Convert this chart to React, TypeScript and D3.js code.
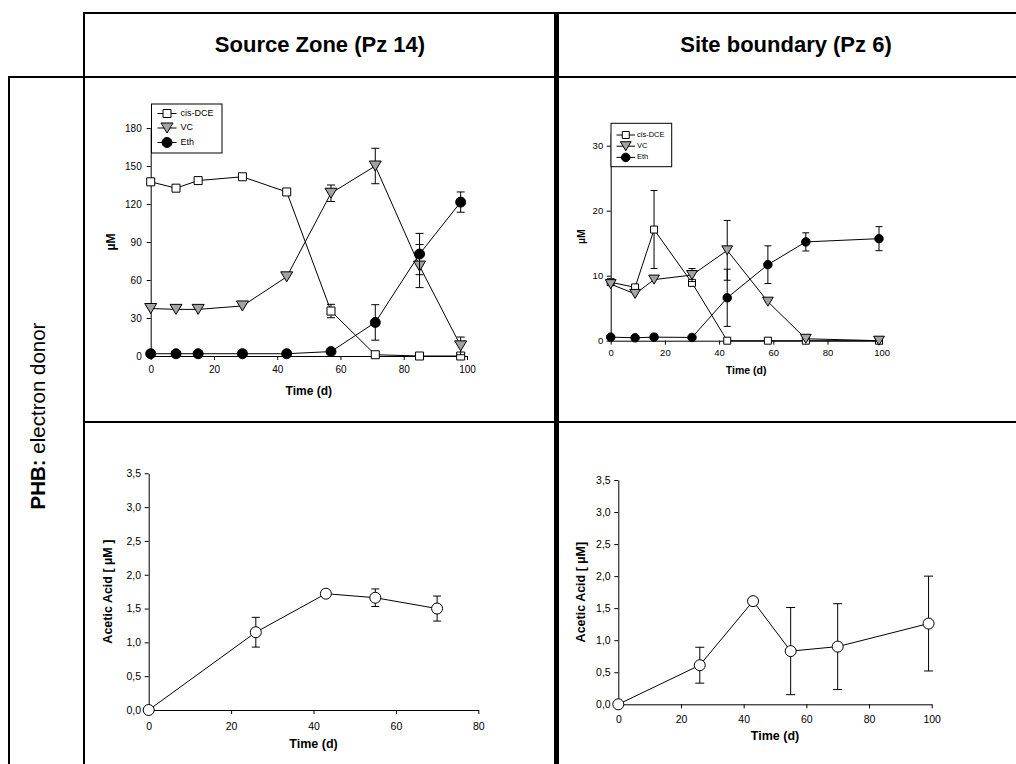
import React, { useEffect, useRef } from "react";
import * as d3 from "d3";

// Source Zone (Pz 14) - chlorinated ethenes
const szDays = [0, 8, 15, 29, 43, 57, 71, 85, 98];
const szDCE = [137.5, 132.5, 138.5, 141.5, 129.5, 35.5, 1, 0, 0];
const szDCEErr = [0, 0, 0, 0, 0, 5.3, 0, 0, 0];
const szVC = [37.5, 36.8, 36.8, 39.5, 62.5, 128.5, 150, 71, 8];
const szVCErr = [0, 0, 0, 0, 0, 6.5, 14, 17, 7];
const szEth = [1.8, 1.8, 1.8, 1.8, 1.8, 3.5, 26.5, 80.5, 121.5];
const szEthErr = [0, 0, 0, 0, 0, 0, 14, 16.3, 8];

// Site boundary (Pz 6) - chlorinated ethenes
const sbDays = [0, 9, 16, 30, 43, 58, 72, 99];
const sbDCE = [9.0, 8.2, 17.1, 8.9, 0, 0, 0, 0];
const sbDCEErr = [0, 0, 6.0, 0, 0, 0, 0, 0];
const sbVC = [8.7, 7.2, 9.4, 10.1, 13.9, 6.0, 0.3, 0];
const sbVCErr = [0, 0, 0, 1.0, 4.6, 0, 0, 0];
const sbEth = [0.55, 0.45, 0.55, 0.5, 6.6, 11.7, 15.2, 15.7];
const sbEthErr = [0, 0, 0, 0, 4.4, 2.9, 1.4, 1.85];

// acetic acid
const szAcDays = [0, 26, 43, 55, 70];
const szAcetic = [0, 1.15, 1.72, 1.66, 1.5];
const szAceticErr = [0, 0.22, 0, 0.13, 0.185];
const sbAcDays = [0, 26, 43, 55, 70, 99];
const sbAcetic = [0, 0.61, 1.61, 0.83, 0.9, 1.26];
const sbAceticErr = [0, 0.28, 0, 0.68, 0.67, 0.74];

const seriesNames = ["cis-DCE", "VC", "Eth"];
const dayTicks = [0, 20, 40, 60, 80, 100];
const dayTicks80 = [0, 20, 40, 60, 80];
const szTicks = [0, 30, 60, 90, 120, 150, 180];
const sbTicks = [0, 10, 20, 30];
const aceticTicks = [0, 0.5, 1, 1.5, 2, 2.5, 3, 3.5];
const headers = ["Source Zone (Pz 14)", "Site boundary (Pz 6)"];

const FONT = "Arial, 'Liberation Sans', sans-serif";
const GREY = "#a3a3a3";

function symbolPath(shape, s) {
  if (shape == "square") return `M${-s / 2},${-s / 2}h${s}v${s}h${-s}Z`;
  if (shape == "triangle") {
    var w = s * 1.2, h = s * 1.0;
    return `M${-w / 2},${-h / 2}L${w / 2},${-h / 2}L0,${h / 2}Z`;
  }
  var r = s / 2;
  return `M${-r},0a${r},${r} 0 1,0 ${2 * r},0a${r},${r} 0 1,0 ${-2 * r},0Z`;
}
const fills = { square: "#fff", triangle: GREY, circle: "#000", open: "#fff" };

function drawPanel(svg, p) {
  var g = svg.append("g");
  var x = d3.scaleLinear().domain(p.xDomain).range(p.xRange);
  var y = d3.scaleLinear().domain(p.yDomain).range(p.yRange);

  var xa = g.append("g").attr("transform", "translate(0," + p.yRange[0] + ")")
    .call(d3.axisBottom(x).tickValues(p.xTicks).tickSize(4).tickPadding(p.xPad).tickSizeOuter(0));
  var ya = g.append("g").attr("transform", "translate(" + p.xRange[0] + ",0)")
    .call(d3.axisLeft(y).tickValues(p.yTicks).tickFormat(p.yFormat).tickSize(4).tickPadding(p.yPad).tickSizeOuter(0));
  [xa, ya].forEach(a => {
    a.attr("font-family", FONT).attr("font-size", p.tickFont);
    a.selectAll(".domain").attr("stroke", "#000");
    a.selectAll(".tick line").attr("stroke", "#000");
    a.selectAll(".tick text").attr("fill", "#000");
  });

  g.append("text")
    .attr("x", (p.xRange[0] + p.xRange[1]) / 2).attr("y", p.yRange[0] + p.xTitleOff)
    .attr("text-anchor", "middle").attr("dominant-baseline", "middle")
    .attr("font-family", FONT).attr("font-weight", "bold").attr("font-size", p.titleFont)
    .text("Time (d)");
  g.append("text")
    .attr("transform", "translate(" + p.yTitleX + "," + (p.yRange[0] + p.yRange[1]) / 2 + ") rotate(-90)")
    .attr("text-anchor", "middle").attr("dominant-baseline", "middle")
    .attr("font-family", FONT).attr("font-weight", "bold").attr("font-size", p.titleFont)
    .text(p.yTitle);

  p.series.forEach(s => {
    var pts = s.days.map((d, i) => ({ d: d, v: s.values[i], e: s.errs[i] }));
    var eb = g.append("g").attr("stroke", "#000").attr("stroke-width", 1);
    pts.filter(q => q.e > 0).forEach(q => {
      var cx = x(q.d);
      var top = y(q.v + q.e), bot = y(Math.max(0, q.v - q.e));
      eb.append("line").attr("x1", cx).attr("x2", cx).attr("y1", top).attr("y2", bot);
      eb.append("line").attr("x1", cx - p.cap / 2).attr("x2", cx + p.cap / 2).attr("y1", top).attr("y2", top);
      eb.append("line").attr("x1", cx - p.cap / 2).attr("x2", cx + p.cap / 2).attr("y1", bot).attr("y2", bot);
    });
    g.append("path").datum(pts)
      .attr("fill", "none").attr("stroke", "#000").attr("stroke-width", 1)
      .attr("d", d3.line().x(q => x(q.d)).y(q => y(q.v)));
    g.append("g").selectAll("path").data(pts).enter().append("path")
      .attr("transform", q => "translate(" + x(q.d) + "," + y(q.v) + ")")
      .attr("d", symbolPath(s.shape, s.size))
      .attr("fill", fills[s.shape]).attr("stroke", "#000").attr("stroke-width", 1);
  });

  if (p.legend) {
    var L = p.legend;
    var lg = g.append("g");
    lg.append("rect").attr("x", L.x).attr("y", L.y).attr("width", L.w).attr("height", L.h)
      .attr("fill", "#fff").attr("stroke", "#000").attr("stroke-width", 1);
    p.series.forEach((s, i) => {
      var cy = L.y + L.top + i * L.step;
      lg.append("line").attr("x1", L.x + L.l0).attr("x2", L.x + L.l1).attr("y1", cy).attr("y2", cy)
        .attr("stroke", "#000");
      lg.append("path").attr("transform", "translate(" + (L.x + (L.l0 + L.l1) / 2) + "," + cy + ")")
        .attr("d", symbolPath(s.shape, s.size)).attr("fill", fills[s.shape]).attr("stroke", "#000");
      lg.append("text").attr("x", L.x + L.tx).attr("y", cy).attr("dominant-baseline", "middle")
        .attr("font-family", FONT).attr("font-size", L.font).text(seriesNames[i]);
    });
  }
}

const comma = d => d3.format(".1f")(d).replace(".", ",");

export default function App() {
  const ref = useRef(null);

  useEffect(() => {
    var svg = d3.select(ref.current);
    svg.selectAll("*").remove();

    // table grid
    var grid = svg.append("g").attr("stroke", "#000");
    grid.append("line").attr("x1", 83).attr("x2", 1016).attr("y1", 13).attr("y2", 13).attr("stroke-width", 2);
    grid.append("line").attr("x1", 8).attr("x2", 1016).attr("y1", 77).attr("y2", 77).attr("stroke-width", 2);
    grid.append("line").attr("x1", 84).attr("x2", 1016).attr("y1", 422).attr("y2", 422).attr("stroke-width", 2);
    grid.append("line").attr("x1", 84).attr("x2", 84).attr("y1", 12).attr("y2", 764).attr("stroke-width", 2);
    grid.append("line").attr("x1", 9).attr("x2", 9).attr("y1", 76).attr("y2", 764).attr("stroke-width", 2);
    grid.append("line").attr("x1", 556.5).attr("x2", 556.5).attr("y1", 12).attr("y2", 764).attr("stroke-width", 5);

    headers.forEach((h, i) => {
      svg.append("text").attr("x", i == 0 ? 320 : 786).attr("y", 46)
        .attr("text-anchor", "middle").attr("dominant-baseline", "middle")
        .attr("font-family", FONT).attr("font-weight", "bold").attr("font-size", 22).text(h);
    });
    var side = svg.append("text").attr("transform", "translate(40,416) rotate(-90)")
      .attr("text-anchor", "middle").attr("dominant-baseline", "middle")
      .attr("font-family", FONT).attr("font-size", 20.5);
    side.append("tspan").attr("font-weight", "bold").text("PHB:");
    side.append("tspan").text(" electron donor");

    drawPanel(svg, {
      xDomain: [0, 100], xRange: [150.7, 467], yDomain: [0, 180], yRange: [356, 128],
      xTicks: dayTicks, yTicks: szTicks, yFormat: d3.format("d"),
      xPad: 6, yPad: 5, tickFont: 10, titleFont: 12, xTitleOff: 36, yTitleX: 112, yTitle: "µM", cap: 8,
      series: [
        { days: szDays, values: szDCE, errs: szDCEErr, shape: "square", size: 8 },
        { days: szDays, values: szVC, errs: szVCErr, shape: "triangle", size: 10 },
        { days: szDays, values: szEth, errs: szEthErr, shape: "circle", size: 10 },
      ],
      legend: { x: 151.5, y: 104, w: 70.5, h: 49, top: 9.5, step: 14.5, l0: 6, l1: 25, tx: 29, font: 9 },
    });

    drawPanel(svg, {
      xDomain: [0, 100], xRange: [610.7, 881.7], yDomain: [0, 32], yRange: [340.7, 132.7],
      xTicks: dayTicks, yTicks: sbTicks, yFormat: d3.format("d"),
      xPad: 4.5, yPad: 3.5, tickFont: 9.5, titleFont: 10.5, xTitleOff: 31, yTitleX: 582, yTitle: "µM", cap: 7,
      series: [
        { days: sbDays, values: sbDCE, errs: sbDCEErr, shape: "square", size: 7 },
        { days: sbDays, values: sbVC, errs: sbVCErr, shape: "triangle", size: 9 },
        { days: sbDays, values: sbEth, errs: sbEthErr, shape: "circle", size: 8.5 },
      ],
      legend: { x: 611, y: 123.3, w: 60.7, h: 43.4, top: 11.7, step: 11.2, l0: 5.5, l1: 24, tx: 26, font: 7.5 },
    });

    drawPanel(svg, {
      xDomain: [0, 80], xRange: [148.7, 478.3], yDomain: [0, 3.5], yRange: [710, 473.3],
      xTicks: dayTicks80, yTicks: aceticTicks, yFormat: comma,
      xPad: 9, yPad: 3.7, tickFont: 10.5, titleFont: 12.5, xTitleOff: 35, yTitleX: 108.5, yTitle: "Acetic Acid [ µM ]", cap: 8,
      series: [{ days: szAcDays, values: szAcetic, errs: szAceticErr, shape: "open", size: 11 }],
    });

    drawPanel(svg, {
      xDomain: [0, 100], xRange: [618.3, 931.7], yDomain: [0, 3.5], yRange: [704.3, 480],
      xTicks: dayTicks, yTicks: aceticTicks, yFormat: comma,
      xPad: 7.3, yPad: 3.6, tickFont: 10.5, titleFont: 12.5, xTitleOff: 32.5, yTitleX: 582, yTitle: "Acetic Acid [ µM]", cap: 9,
      series: [{ days: sbAcDays, values: sbAcetic, errs: sbAceticErr, shape: "open", size: 11 }],
    });
  }, []);

  return (
    <svg ref={ref} width={1016} height={764}
      style={{ position: "absolute", left: 0, top: 0, background: "#fff" }} />
  );
}
